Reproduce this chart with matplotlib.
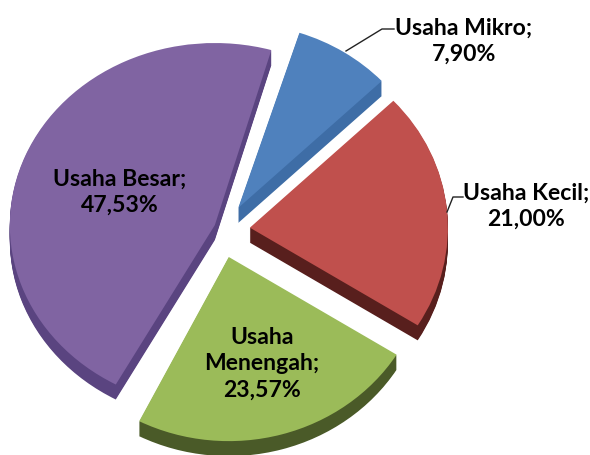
import matplotlib
matplotlib.use("Agg")
import matplotlib.pyplot as plt
from matplotlib.transforms import Affine2D

categories = ["Usaha Mikro", "Usaha Kecil", "Usaha Menengah", "Usaha Besar"]
values = [7.90, 21.00, 23.57, 47.53]
labels = ["Usaha Mikro;\n7,90%", "Usaha Kecil;\n21,00%", "Usaha\nMenengah;\n23,57%", "Usaha Besar;\n47,53%"]
colors = ["#4F81BD", "#C0504D", "#9BBB59", "#8064A2"]
dark = ["#3E6DA6", "#581F1D", "#4A5A28", "#5A4480"]
explode = [23, 25, 29, 11]
nudge = [(1, -2), (0, 2), (-4, 3), (0, 1)]

W, H = 590, 455
fig = plt.figure(figsize=(W / 100, H / 100), dpi=100)
ax = fig.add_axes([0, 0, 1, 1])
SQ = 0.93
R = 198
R_big = 205
BIG_SY = 0.955
BIG_TRIM = 2
cx, cy = 225, 228
depth = 15


def yd(py):
    return (H - py) / SQ


def draw(offset, cols):
    wedges, _ = ax.pie(values, explode=explode, colors=cols, radius=R,
                       center=(cx, yd(cy + offset)), startangle=72,
                       counterclock=False, frame=True)
    big = wedges[3]
    big.set_radius(R_big)
    big.set_theta1(big.theta1 + BIG_TRIM)
    big.set_theta2(big.theta2 - BIG_TRIM)
    for i, (w, (dx, dy)) in enumerate(zip(wedges, nudge)):
        c = w.center[1]
        sy = BIG_SY if i == 3 else 1.0
        t = Affine2D().translate(0, -c).scale(1, sy).translate(dx, c - dy / SQ)
        w.set_transform(t + ax.transData)


for d in range(depth, 0, -1):
    draw(d, dark)
draw(0, colors)

ax.set_aspect("auto")
ax.set_xlim(0, W)
ax.set_ylim(0, H / SQ)
ax.axis("off")

font = dict(family="Lato", fontweight="bold", fontsize=16.6, color="black",
            ha="center", va="center", linespacing=1.32)
positions = [(464, 41), (526, 206), (262, 364), (120, 192)]
for (x, y), t in zip(positions, labels):
    ax.text(x, yd(y), t, **font)

ax.plot([346, 382, 394], [yd(51), yd(29), yd(29)], color="#222222", lw=1)
ax.plot([447, 453, 463], [yd(212), yd(197), yd(197)], color="#222222", lw=1)

fig.savefig("out.png", dpi=100)
